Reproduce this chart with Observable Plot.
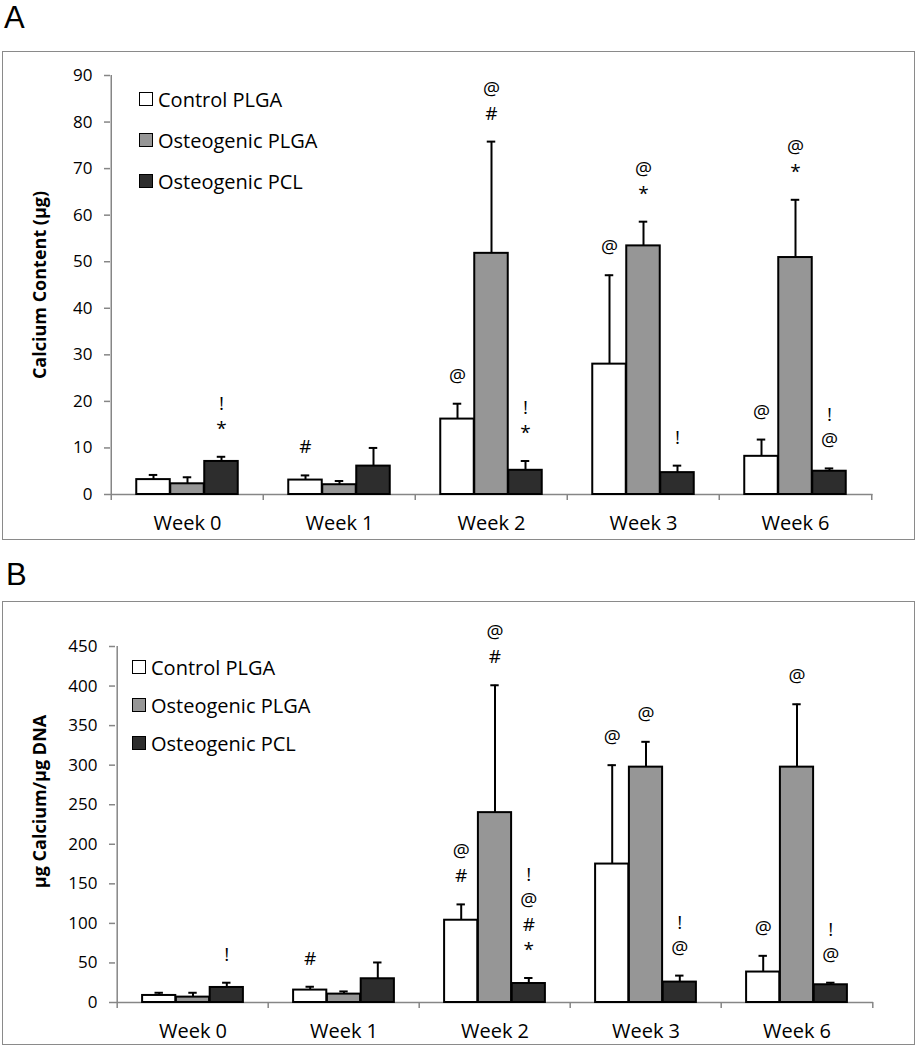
<!DOCTYPE html>
<html>
<head>
<meta charset="utf-8">
<script src="https://cdn.jsdelivr.net/npm/d3@7"></script>
<script src="https://cdn.jsdelivr.net/npm/@observablehq/plot@0.6"></script>
<style>
html, body { margin: 0; padding: 0; background: #fff; }
body { position: relative; width: 917px; height: 1050px; overflow: hidden; font-family: "Open Sans", sans-serif; color: #000; }
.panel-letter { position: absolute; font-family: "Liberation Sans", Arial, sans-serif; font-size: 31px; line-height: normal; }
.frame { position: absolute; box-sizing: border-box; border: 1px solid #8a8a8a; pointer-events: none; }
.legend { position: absolute; font-size: 20px; }
.legend .row { position: absolute; left: 0; height: 28px; white-space: nowrap; display: flex; align-items: center; }
.legend .sw { width: 14px; height: 14px; box-sizing: border-box; border: 1.5px solid #000; margin-right: 5px; }
</style>
</head>
<body>
<script>
// ---------- categories ----------
const weeks = ["Week 0", "Week 1", "Week 2", "Week 3", "Week 6"];
const seriesNames = ["Control PLGA", "Osteogenic PLGA", "Osteogenic PCL"];
const seriesFill = ["#ffffff", "#969696", "#2d2d2d"];

// ---------- Panel A: Calcium content (µg) ----------
const calciumControlPLGA     = [3.2, 3.1, 16.2, 28.0, 8.2];
const calciumControlPLGA_sd  = [1.0, 1.0, 3.3, 19.1, 3.6];
const calciumOsteoPLGA       = [2.3, 2.1, 51.8, 53.4, 50.9];
const calciumOsteoPLGA_sd    = [1.4, 0.8, 24.0, 5.2, 12.4];
const calciumOsteoPCL        = [7.1, 6.1, 5.2, 4.7, 5.0];
const calciumOsteoPCL_sd     = [1.0, 3.9, 2.0, 1.5, 0.6];
const calciumNotesControl    = ["", "#", "@", "@", "@"];
const calciumNotesOsteoPLGA  = ["", "", "@\n#", "@\n*", "@\n*"];
const calciumNotesOsteoPCL   = ["!\n*", "", "!\n*", "!", "!\n@"];
const calciumTicks = [0, 10, 20, 30, 40, 50, 60, 70, 80, 90];

// ---------- Panel B: µg Calcium / µg DNA ----------
const normControlPLGA     = [8.9, 15.7, 104, 175, 38.5];
const normControlPLGA_sd  = [3.4, 4.2, 20, 125, 20.5];
const normOsteoPLGA       = [6.8, 10.6, 240, 297.5, 297.5];
const normOsteoPLGA_sd    = [5.5, 3.4, 161, 32, 79.5];
const normOsteoPCL        = [19, 30, 24, 25.8, 22.4];
const normOsteoPCL_sd     = [6, 20.6, 7, 8.2, 2.6];
const normNotesControl    = ["", "#", "@\n#", "@", "@"];
const normNotesOsteoPLGA  = ["", "", "@\n#", "@", "@"];
const normNotesOsteoPCL   = ["!", "", "!\n@\n#\n*", "!\n@", "!\n@"];
const normTicks = [0, 50, 100, 150, 200, 250, 300, 350, 400, 450];

const axisGray = "#868686";

function addEl(cls, styles, text) {
  const el = document.createElement("div");
  el.className = cls;
  Object.assign(el.style, styles);
  if (text != null) el.textContent = text;
  document.body.appendChild(el);
  return el;
}

function drawPanel(cfg) {
  const bw = (cfg.width - cfg.mL - cfg.mR) / weeks.length;
  const outer = 0.1656;
  const barFrac = (1 - 2 * outer) / 3;
  const yMax = cfg.ticks[cfg.ticks.length - 1];
  const pxPerUnit = (cfg.height - cfg.mT - cfg.mB) / yMax;
  const tickExt = 6 / pxPerUnit;

  const marks = [
    Plot.ruleY([0], {stroke: axisGray, strokeWidth: 1.5}),
    Plot.ruleX([weeks[0]], {x: d => d, dx: -bw / 2, y1: 0, y2: yMax, stroke: axisGray, strokeWidth: 1.5}),
    Plot.ruleX(weeks, {x: d => d, dx: -bw / 2, y1: 0, y2: -tickExt, stroke: axisGray, strokeWidth: 1.5}),
    Plot.ruleX([weeks[weeks.length - 1]], {x: d => d, dx: bw / 2, y1: 0, y2: -tickExt, stroke: axisGray, strokeWidth: 1.5}),
    Plot.axisY({ticks: cfg.ticks, tickSize: 6, tickPadding: 12, stroke: axisGray, strokeWidth: 1.5, fontSize: 17, label: null}),
    Plot.axisX({tickSize: 0, tickPadding: 21, fontSize: 20, label: null}),
    Plot.text([cfg.yTitle], {text: d => d, frameAnchor: "left", dx: cfg.titleDx, dy: cfg.titleDy, rotate: -90,
      fontWeight: "bold", fontSize: 18, textAnchor: "middle", lineAnchor: "middle"})
  ];

  cfg.means.forEach((means, i) => {
    const data = weeks.map((w, wi) => ({week: w, mean: means[wi], sd: cfg.sds[i][wi], note: cfg.notes[i][wi]}));
    const left = bw * (outer + i * barFrac);
    const right = bw - bw * (outer + (i + 1) * barFrac);
    const center = bw * (outer + (i + 0.5) * barFrac);
    marks.push(
      Plot.barY(data, {x: "week", y1: 0, y2: "mean", fill: seriesFill[i], stroke: "#000", strokeWidth: 2,
        insetLeft: left, insetRight: right}),
      Plot.ruleX(data, {x: "week", y1: "mean", y2: d => d.mean + d.sd, dx: center - bw / 2, stroke: "#000", strokeWidth: 2}),
      Plot.tickY(data, {x: "week", y: d => d.mean + d.sd, insetLeft: center - 4.5, insetRight: bw - center - 4.5,
        stroke: "#000", strokeWidth: 2}),
      Plot.text(data, {x: "week", y: d => d.mean + d.sd, text: "note", dx: center - bw / 2, dy: -22,
        lineAnchor: "bottom", fontSize: 19, lineHeight: 25 / 19, fill: "#000"})
    );
  });

  const svg = Plot.plot({
    width: cfg.width,
    height: cfg.height,
    marginLeft: cfg.mL,
    marginRight: cfg.mR,
    marginTop: cfg.mT,
    marginBottom: cfg.mB,
    x: {type: "band", domain: weeks, padding: 0},
    y: {domain: [0, yMax]},
    style: {background: "transparent", overflow: "visible", fontFamily: "Open Sans, sans-serif", color: "#000"},
    marks
  });
  Object.assign(svg.style, {position: "absolute", left: cfg.left + "px", top: cfg.top + "px"});
  document.body.appendChild(svg);

  addEl("frame", {left: cfg.left + "px", top: cfg.top + "px", width: cfg.width + "px", height: cfg.height + "px"});
  addEl("panel-letter", {left: cfg.letterLeft + "px", top: cfg.letterTop + "px"}, cfg.letter);

  const legend = addEl("legend", {left: cfg.legendLeft + "px", top: cfg.legendTop + "px"});
  seriesNames.forEach((name, i) => {
    const row = document.createElement("div");
    row.className = "row";
    row.style.top = (i * cfg.legendGap - 14) + "px";
    const sw = document.createElement("div");
    sw.className = "sw";
    sw.style.background = seriesFill[i];
    const label = document.createElement("span");
    label.textContent = name;
    row.appendChild(sw);
    row.appendChild(label);
    legend.appendChild(row);
  });
}

drawPanel({
  letter: "A", letterLeft: 4, letterTop: 0,
  left: 2, top: 51, width: 913, height: 489,
  mL: 108, mR: 42.5, mT: 24, mB: 46,
  ticks: calciumTicks,
  yTitle: "Calcium Content (µg)", titleDx: -70, titleDy: 0,
  means: [calciumControlPLGA, calciumOsteoPLGA, calciumOsteoPCL],
  sds: [calciumControlPLGA_sd, calciumOsteoPLGA_sd, calciumOsteoPCL_sd],
  notes: [calciumNotesControl, calciumNotesOsteoPLGA, calciumNotesOsteoPCL],
  legendLeft: 139, legendTop: 99, legendGap: 41
});

drawPanel({
  letter: "B", letterLeft: 6, letterTop: 557,
  left: 2, top: 601, width: 913, height: 444,
  mL: 113, mR: 42, mT: 45, mB: 43,
  ticks: normTicks,
  yTitle: "µg Calcium/µg DNA", titleDx: -75, titleDy: -23,
  means: [normControlPLGA, normOsteoPLGA, normOsteoPCL],
  sds: [normControlPLGA_sd, normOsteoPLGA_sd, normOsteoPCL_sd],
  notes: [normNotesControl, normNotesOsteoPLGA, normNotesOsteoPCL],
  legendLeft: 132, legendTop: 667, legendGap: 38
});
</script>
</body>
</html>
